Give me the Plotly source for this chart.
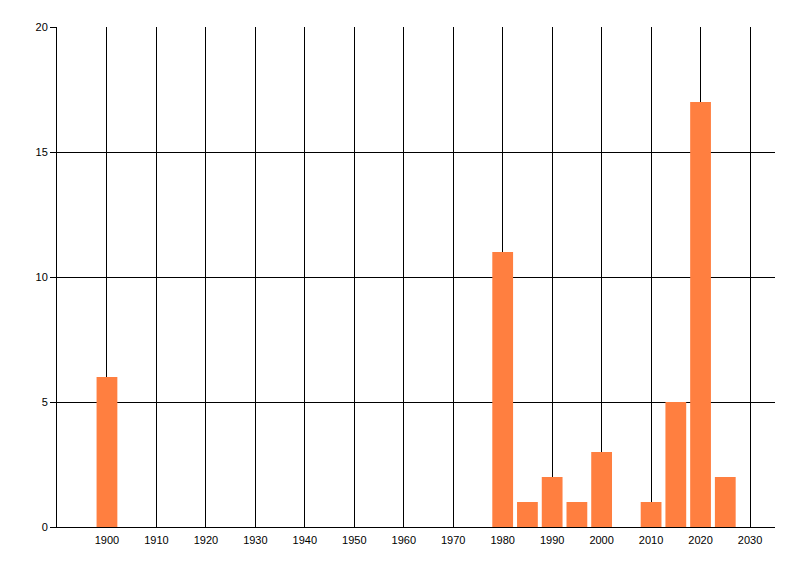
import plotly.graph_objects as go

# bar data
years = [1900, 1980, 1985, 1990, 1995, 2000, 2010, 2015, 2020, 2025]
counts = [6, 11, 1, 2, 1, 3, 1, 5, 17, 2]

x_ticks = list(range(1900, 2031, 10))
y_ticks = [0, 5, 10, 15, 20]

bar_color = "#FF7F40"

fig = go.Figure()

fig.add_trace(
    go.Bar(
        x=years,
        y=counts,
        width=4.2,
        marker=dict(color=bar_color, line=dict(width=0)),
        showlegend=False,
    )
)

# page has an 8px body margin, so the margins are shifted by that
fig.update_layout(
    width=800,
    height=576,
    margin=dict(l=49, r=33, t=19, b=57),
    paper_bgcolor="white",
    plot_bgcolor="white",
    font=dict(family="Liberation Sans, Arial, sans-serif", size=11, color="black"),
)

fig.update_xaxes(
    range=[1889.9, 2035.05],
    tickvals=x_ticks,
    ticktext=[str(t) for t in x_ticks],
    showgrid=True,
    gridcolor="black",
    gridwidth=1,
    zeroline=False,
    showline=True,
    linecolor="black",
    linewidth=1,
    ticks="",
    ticklabelstandoff=3,
)
fig.update_yaxes(
    range=[0, 20],
    tickvals=y_ticks,
    showgrid=True,
    gridcolor="black",
    gridwidth=1,
    zeroline=False,
    showline=True,
    linecolor="black",
    linewidth=1,
    ticks="outside",
    ticklen=6,
    tickcolor="black",
)

fig.write_html("out.html")
